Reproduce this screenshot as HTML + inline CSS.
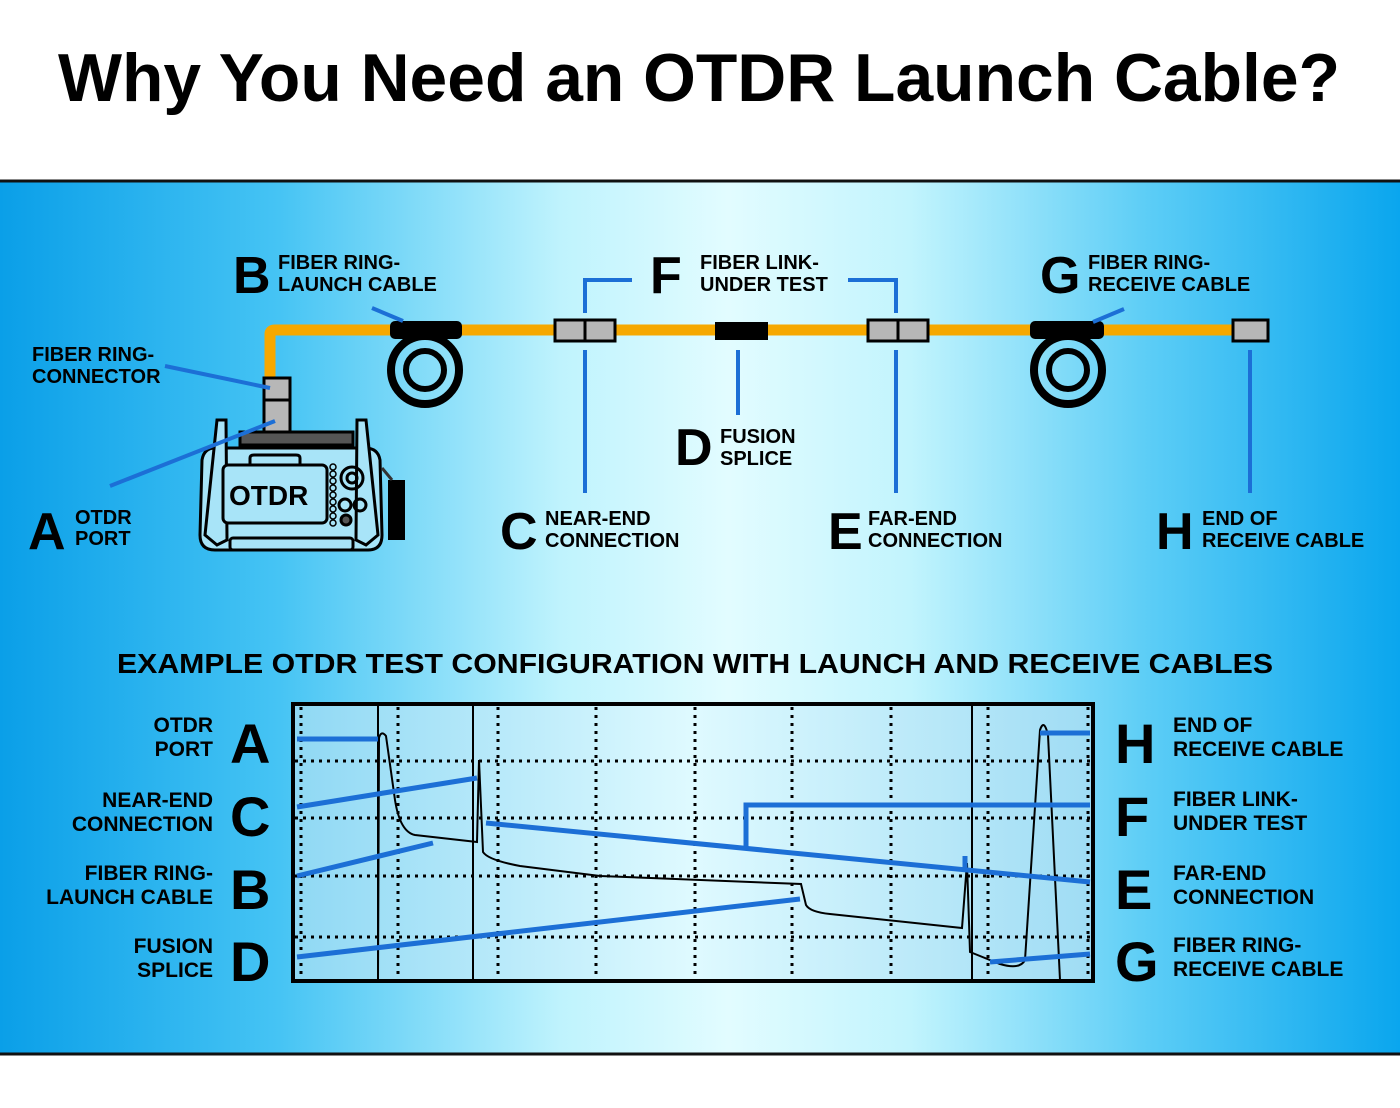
<!DOCTYPE html>
<html><head><meta charset="utf-8"><style>
html,body{margin:0;padding:0;background:#fff;}
svg{display:block;}
text{font-family:"Liberation Sans",sans-serif;font-weight:bold;fill:#000;}
</style></head><body>
<svg width="1400" height="1108" viewBox="0 0 1400 1108" xmlns="http://www.w3.org/2000/svg">
<defs>
<linearGradient id="bg" x1="0" x2="1" y1="0" y2="0">
<stop offset="0" stop-color="#0a9fe8"/>
<stop offset="0.2" stop-color="#46c4f4"/>
<stop offset="0.4" stop-color="#bff3fd"/>
<stop offset="0.52" stop-color="#e2fcff"/>
<stop offset="0.65" stop-color="#c2f4fd"/>
<stop offset="0.82" stop-color="#5ccdf6"/>
<stop offset="1" stop-color="#0aa6ee"/>
</linearGradient>
<linearGradient id="cg" x1="0" x2="1" y1="0" y2="0">
<stop offset="0" stop-color="#8fd8f4"/>
<stop offset="0.5" stop-color="#dffaff"/>
<stop offset="1" stop-color="#9fdcf4"/>
</linearGradient>
</defs>
<text x="58" y="101" font-size="68" textLength="1282" lengthAdjust="spacingAndGlyphs">Why You Need an OTDR Launch Cable?</text>
<rect x="0" y="180" width="1400" height="875" fill="url(#bg)"/>
<line x1="0" y1="181" x2="1400" y2="181" stroke="#111" stroke-width="3"/>
<line x1="0" y1="1054" x2="1400" y2="1054" stroke="#111" stroke-width="3"/>

<!-- cable -->
<path d="M270 380 V334 Q270 330 275 330 H1245" fill="none" stroke="#f6a800" stroke-width="11"/>
<!-- B coil -->
<circle cx="425" cy="370" r="34" fill="none" stroke="#000" stroke-width="8"/>
<circle cx="425" cy="370" r="19" fill="none" stroke="#000" stroke-width="6"/>
<rect x="390" y="321" width="72" height="18" rx="5" fill="#000"/>
<!-- G coil -->
<circle cx="1068" cy="370" r="34" fill="none" stroke="#000" stroke-width="8"/>
<circle cx="1068" cy="370" r="19" fill="none" stroke="#000" stroke-width="6"/>
<rect x="1030" y="321" width="74" height="18" rx="5" fill="#000"/>
<!-- connectors -->
<rect x="555" y="320" width="60" height="21" fill="#b7b7b7" stroke="#000" stroke-width="3"/>
<line x1="585" y1="320" x2="585" y2="341" stroke="#000" stroke-width="3"/>
<rect x="715" y="322" width="53" height="18" fill="#000"/>
<rect x="868" y="320" width="60" height="21" fill="#b7b7b7" stroke="#000" stroke-width="3"/>
<line x1="898" y1="320" x2="898" y2="341" stroke="#000" stroke-width="3"/>
<rect x="1233" y="320" width="35" height="21" fill="#b7b7b7" stroke="#000" stroke-width="3"/>

<!-- OTDR device -->
<g stroke="#000" stroke-width="3" fill="none">
<rect x="264" y="378" width="26" height="22" fill="#b7b7b7"/>
<rect x="264" y="400" width="26" height="32" fill="#b7b7b7"/>
<rect x="240" y="432" width="113" height="13" fill="#555"/>
<path d="M215 448 H365 Q378 448 380 460 L382 535 Q382 550 368 550 H215 Q200 550 200 535 L202 460 Q204 448 215 448 Z" fill="#a8e4f8"/>
<path d="M217 420 L226 420 L227 540 L217 545 L205 535 Z" fill="#a8e4f8"/>
<path d="M357 420 L366 420 L378 535 L366 545 L356 540 Z" fill="#a8e4f8"/>
<rect x="223" y="465" width="104" height="58" rx="5" fill="#a8e4f8"/>
<path d="M250 465 V458 Q250 455 254 455 H296 Q300 455 300 458 V465"/>
<rect x="230" y="538" width="123" height="12" rx="3" fill="#a8e4f8"/>
<circle cx="352" cy="478" r="11"/><circle cx="352" cy="478" r="5"/>
<circle cx="345" cy="505" r="6"/><circle cx="360" cy="505" r="6"/>
<circle cx="346" cy="520" r="5" fill="#555"/>
</g>
<g fill="#a8e4f8" stroke="#000" stroke-width="1.5">
<circle cx="333" cy="467" r="3"/><circle cx="333" cy="474" r="3"/><circle cx="333" cy="481" r="3"/><circle cx="333" cy="488" r="3"/><circle cx="333" cy="495" r="3"/><circle cx="333" cy="502" r="3"/><circle cx="333" cy="509" r="3"/><circle cx="333" cy="516" r="3"/><circle cx="333" cy="523" r="3"/>
</g>
<rect x="388" y="480" width="17" height="60" fill="#000"/>
<line x1="382" y1="468" x2="392" y2="480" stroke="#333" stroke-width="3"/>
<text x="229" y="505" font-size="28">OTDR</text>

<!-- blue leaders top -->
<g stroke="#1c6fd6" stroke-width="4" fill="none">
<line x1="165" y1="366" x2="270" y2="388"/>
<line x1="110" y1="486" x2="275" y2="421"/>
<line x1="372" y1="308" x2="403" y2="321"/>
<line x1="1124" y1="309" x2="1093" y2="322"/>
<path d="M632 280 H585 V313"/>
<line x1="585" y1="350" x2="585" y2="493"/>
<path d="M848 280 H896 V313"/>
<line x1="896" y1="350" x2="896" y2="493"/>
<line x1="738" y1="350" x2="738" y2="415"/>
<line x1="1250" y1="350" x2="1250" y2="493"/>
</g>

<!-- top labels -->
<g font-size="20">
<text x="32" y="361">FIBER RING-</text><text x="32" y="383">CONNECTOR</text>
<text x="28" y="549" font-size="52">A</text><text x="75" y="524">OTDR</text><text x="75" y="545">PORT</text>
<text x="233" y="293" font-size="52">B</text><text x="278" y="269">FIBER RING-</text><text x="278" y="291">LAUNCH CABLE</text>
<text x="650" y="293" font-size="52">F</text><text x="700" y="269">FIBER LINK-</text><text x="700" y="291">UNDER TEST</text>
<text x="1040" y="293" font-size="52">G</text><text x="1088" y="269">FIBER RING-</text><text x="1088" y="291">RECEIVE CABLE</text>
<text x="675" y="465" font-size="52">D</text><text x="720" y="443">FUSION</text><text x="720" y="465">SPLICE</text>
<text x="500" y="549" font-size="52">C</text><text x="545" y="525">NEAR-END</text><text x="545" y="547">CONNECTION</text>
<text x="828" y="549" font-size="52">E</text><text x="868" y="525">FAR-END</text><text x="868" y="547">CONNECTION</text>
<text x="1156" y="549" font-size="52">H</text><text x="1202" y="525">END OF</text><text x="1202" y="547">RECEIVE CABLE</text>
</g>

<text x="117" y="673" font-size="28" textLength="1156" lengthAdjust="spacingAndGlyphs">EXAMPLE OTDR TEST CONFIGURATION WITH LAUNCH AND RECEIVE CABLES</text>

<!-- chart -->
<rect x="293" y="704" width="800" height="277" fill="url(#cg)" stroke="#000" stroke-width="4"/>
<g stroke="#000" stroke-width="3" stroke-dasharray="3 5" fill="none">
<line x1="295" y1="761" x2="1091" y2="761"/>
<line x1="295" y1="818" x2="1091" y2="818"/>
<line x1="295" y1="876" x2="1091" y2="876"/>
<line x1="295" y1="937" x2="1091" y2="937"/>
<line x1="301" y1="707" x2="301" y2="979"/>
<line x1="398" y1="707" x2="398" y2="979"/>
<line x1="498" y1="707" x2="498" y2="979"/>
<line x1="596" y1="707" x2="596" y2="979"/>
<line x1="695" y1="707" x2="695" y2="979"/>
<line x1="792" y1="707" x2="792" y2="979"/>
<line x1="891" y1="707" x2="891" y2="979"/>
<line x1="988" y1="707" x2="988" y2="979"/>
<line x1="1088" y1="707" x2="1088" y2="979"/>
</g>
<g stroke="#000" stroke-width="2">
<line x1="378" y1="705" x2="378" y2="980"/>
<line x1="473" y1="705" x2="473" y2="980"/>
<line x1="972" y1="705" x2="972" y2="980"/>
</g>
<path d="M378 980 L379 738 Q381 730 386 736 L395 800 Q400 832 415 835 L477 842 L479 760 L483 852 Q488 860 520 866 L600 876 L801 884 L806 905 Q810 912 830 914 L962 928 L967 863 L970 952 L1000 964 Q1020 970 1025 960 L1040 730 Q1044 718 1048 735 L1060 980" fill="none" stroke="#000" stroke-width="2"/>
<g stroke="#1c6fd6" stroke-width="5" fill="none">
<line x1="297" y1="739" x2="378" y2="739"/>
<line x1="297" y1="807" x2="477" y2="778"/>
<line x1="297" y1="876" x2="433" y2="843"/>
<line x1="297" y1="957" x2="800" y2="899"/>
<line x1="1040" y1="733" x2="1090" y2="733"/>
<path d="M746 848 V805 H1090"/>
<line x1="486" y1="823" x2="1090" y2="882"/>
<line x1="965" y1="856" x2="965" y2="870"/>
<line x1="990" y1="962" x2="1090" y2="954"/>
</g>

<!-- chart labels -->
<g font-size="21" text-anchor="end">
<text x="213" y="732">OTDR</text><text x="213" y="756">PORT</text>
<text x="213" y="807">NEAR-END</text><text x="213" y="831">CONNECTION</text>
<text x="213" y="880">FIBER RING-</text><text x="213" y="904">LAUNCH CABLE</text>
<text x="213" y="953">FUSION</text><text x="213" y="977">SPLICE</text>
</g>
<g font-size="56">
<text x="230" y="763">A</text><text x="230" y="836">C</text><text x="230" y="909">B</text><text x="230" y="981">D</text>
<text x="1115" y="763">H</text><text x="1115" y="836">F</text><text x="1115" y="909">E</text><text x="1115" y="981">G</text>
</g>
<g font-size="21">
<text x="1173" y="732">END OF</text><text x="1173" y="756">RECEIVE CABLE</text>
<text x="1173" y="806">FIBER LINK-</text><text x="1173" y="830">UNDER TEST</text>
<text x="1173" y="880">FAR-END</text><text x="1173" y="904">CONNECTION</text>
<text x="1173" y="952">FIBER RING-</text><text x="1173" y="976">RECEIVE CABLE</text>
</g>
</svg>
</body></html>
